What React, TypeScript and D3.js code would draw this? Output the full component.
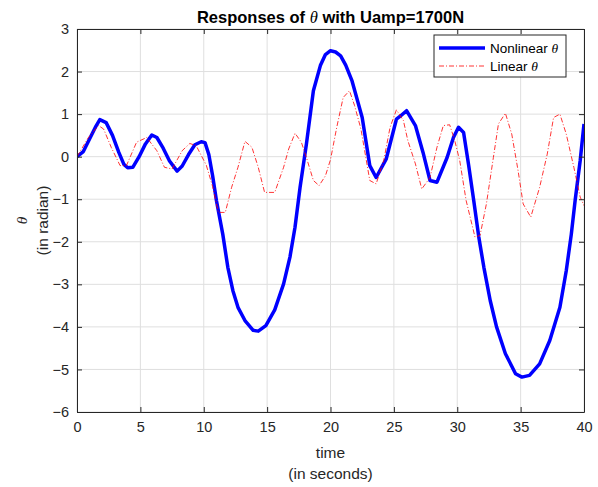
import React, { useEffect, useRef } from "react"
import * as d3 from "d3"

// nonlinear response (thick blue)
const nlT = [0, 0.5, 1, 1.5, 1.8, 2.3, 2.8, 3.3, 3.7, 4.0, 4.4, 4.9, 5.4, 5.9, 6.3, 6.8, 7.3, 7.9, 8.3, 8.8, 9.3, 9.8, 10.1, 10.4, 10.7, 11.0, 11.5, 11.9, 12.3, 12.7, 13.25, 13.9, 14.3, 14.9, 15.6, 16.3, 16.8, 17.2, 17.6, 18.1, 18.65, 19.2, 19.6, 20.0, 20.4, 20.8, 21.2, 21.7, 22.5, 23.1, 23.6, 24.4, 25.2, 25.5, 26.0, 26.7, 27.3, 27.85, 28.4, 29.2, 29.7, 30.1, 30.5, 30.9, 31.3, 31.7, 32.1, 32.6, 33.1, 33.8, 34.6, 35.1, 35.7, 36.5, 37.3, 38.1, 38.6, 39.0, 39.3, 39.7, 40]
const nlTheta = [0, 0.12, 0.42, 0.72, 0.87, 0.8, 0.5, 0.1, -0.18, -0.26, -0.25, 0.0, 0.3, 0.51, 0.45, 0.2, -0.1, -0.34, -0.22, 0.05, 0.28, 0.35, 0.33, 0.05, -0.45, -1.03, -1.82, -2.6, -3.15, -3.54, -3.85, -4.08, -4.1, -3.97, -3.6, -2.99, -2.36, -1.66, -0.72, 0.3, 1.55, 2.14, 2.4, 2.49, 2.46, 2.37, 2.15, 1.78, 0.92, -0.21, -0.49, -0.05, 0.88, 0.95, 1.08, 0.73, 0.1, -0.56, -0.6, -0.02, 0.45, 0.69, 0.57, -0.2, -1.03, -1.89, -2.6, -3.38, -4.0, -4.63, -5.1, -5.18, -5.14, -4.87, -4.32, -3.54, -2.68, -1.82, -1.03, -0.09, 0.77]

// linear response (thin red dash-dot)
const linT = [0, 0.9, 1.7, 2.1, 2.7, 3.4, 3.9, 4.7, 5.5, 6.3, 6.9, 7.5, 8.3, 8.9, 9.4, 10.2, 10.7, 11.15, 11.7, 12.2, 12.7, 13.25, 13.8, 14.3, 14.8, 15.6, 16.3, 16.7, 17.2, 17.7, 18.1, 18.65, 19.1, 19.6, 20.0, 20.5, 21.0, 21.5, 21.9, 22.4, 23.1, 23.6, 24.2, 24.7, 25.2, 25.75, 26.1, 26.7, 27.2, 27.85, 28.4, 28.9, 29.4, 29.8, 30.2, 30.7, 31.4, 31.8, 32.3, 32.85, 33.25, 33.8, 34.3, 34.8, 35.2, 35.8, 36.5, 37.1, 37.6, 38.1, 38.6, 39.2, 39.7, 40]
const linTheta = [0, 0.45, 0.73, 0.65, 0.22, -0.21, -0.21, 0.34, 0.45, 0.14, -0.25, -0.29, 0.14, 0.31, 0.26, -0.2, -0.7, -1.31, -1.31, -0.72, -0.25, 0.36, 0.22, -0.25, -0.84, -0.84, -0.25, 0.18, 0.55, 0.34, -0.02, -0.56, -0.68, -0.45, -0.07, 0.7, 1.39, 1.55, 1.2, 0.65, -0.56, -0.64, -0.09, 0.69, 1.1, 0.85, 0.38, -0.17, -0.76, -0.49, 0.22, 0.73, 0.75, 0.38, -0.1, -1.03, -1.89, -1.85, -1.11, -0.02, 0.77, 1.02, 0.53, -0.33, -1.11, -1.42, -0.72, 0.06, 0.92, 1.0, 0.53, -0.25, -0.95, -1.15]

const xTicks = [0, 5, 10, 15, 20, 25, 30, 35, 40]
const yTicks = [3, 2, 1, 0, -1, -2, -3, -4, -5, -6]

const W = 598
const H = 487
const margin = { top: 29, right: 14, bottom: 75, left: 77 }
const axisColor = "#262626"
const font = "'Liberation Sans', Arial, sans-serif"

export default function App() {
  const ref = useRef<SVGSVGElement>(null)

  useEffect(() => {
    const svg = d3.select(ref.current)
    svg.selectAll("*").remove()

    const x = d3.scaleLinear().domain([0, 40]).range([margin.left, W - margin.right])
    const y = d3.scaleLinear().domain([-6, 3]).range([H - margin.bottom, margin.top])

    svg.append("rect").attr("width", W).attr("height", H).attr("fill", "#fff")

    // grid
    const grid = svg.append("g").attr("stroke", "#dfdfdf").attr("stroke-width", 1)
    xTicks.forEach(t => {
      grid.append("line").attr("x1", x(t)).attr("x2", x(t)).attr("y1", y(-6)).attr("y2", y(3))
    })
    yTicks.forEach(t => {
      grid.append("line").attr("x1", x(0)).attr("x2", x(40)).attr("y1", y(t)).attr("y2", y(t))
    })

    const nl = nlT.map((t, i) => [t, nlTheta[i]] as [number, number])
    const lin = linT.map((t, i) => [t, linTheta[i]] as [number, number])
    const line = d3.line<[number, number]>().x(d => x(d[0])).y(d => y(d[1]))

    const clip = svg.append("clipPath").attr("id", "plotclip")
    clip.append("rect").attr("x", x(0)).attr("y", y(3)).attr("width", x(40) - x(0)).attr("height", y(-6) - y(3))

    const plot = svg.append("g").attr("clip-path", "url(#plotclip)")
    plot.append("path").datum(nl).attr("d", line).attr("fill", "none")
      .attr("stroke", "#0000ff").attr("stroke-width", 3.5).attr("stroke-linejoin", "round")
    plot.append("path").datum(lin).attr("d", line).attr("fill", "none")
      .attr("stroke", "#ff0000").attr("stroke-width", 0.8).attr("stroke-dasharray", "5,2,1,2")

    // axes box
    const xAxisB = d3.axisBottom(x).tickValues(xTicks).tickSize(-5).tickSizeOuter(0).tickPadding(10)
    const xAxisT = d3.axisTop(x).tickValues(xTicks).tickSize(-5).tickSizeOuter(0).tickFormat(() => "")
    const yAxisL = d3.axisLeft(y).tickValues(yTicks).tickSize(-5).tickSizeOuter(0).tickPadding(8)
    const yAxisR = d3.axisRight(y).tickValues(yTicks).tickSize(-5).tickSizeOuter(0).tickFormat(() => "")

    const styleAxis = (g: any) => {
      g.selectAll("path").attr("stroke", axisColor)
      g.selectAll("line").attr("stroke", axisColor)
      g.selectAll("text").attr("fill", axisColor).attr("font-size", 14.5).attr("font-family", font)
    }

    svg.append("g").attr("transform", `translate(0,${y(-6)})`).call(xAxisB).call(styleAxis)
    svg.append("g").attr("transform", `translate(0,${y(3)})`).call(xAxisT).call(styleAxis)
    svg.append("g").attr("transform", `translate(${x(0)},0)`).call(yAxisL).call(styleAxis)
    svg.append("g").attr("transform", `translate(${x(40)},0)`).call(yAxisR).call(styleAxis)

    // title
    const title = svg.append("text").attr("x", (x(0) + x(40)) / 2).attr("y", 23)
      .attr("text-anchor", "middle").attr("font-family", font).attr("font-size", 16.5)
      .attr("font-weight", "bold").attr("fill", "#000")
    title.append("tspan").text("Responses of ")
    title.append("tspan").attr("font-family", "'Liberation Serif', serif").attr("font-style", "italic").attr("font-weight", "normal").text("θ")
    title.append("tspan").text(" with Uamp=1700N")

    // x label
    svg.append("text").attr("x", (x(0) + x(40)) / 2).attr("y", 458).attr("text-anchor", "middle")
      .attr("font-family", font).attr("font-size", 15.5).attr("fill", axisColor).text("time")
    svg.append("text").attr("x", (x(0) + x(40)) / 2).attr("y", 479).attr("text-anchor", "middle")
      .attr("font-family", font).attr("font-size", 15.5).attr("fill", axisColor).text("(in seconds)")

    // y label
    const cy = (y(3) + y(-6)) / 2
    svg.append("text").attr("transform", `translate(27,${cy}) rotate(-90)`).attr("text-anchor", "middle")
      .attr("font-family", "'Liberation Serif', serif").attr("font-style", "italic").attr("font-size", 15.5).attr("fill", axisColor).text("θ")
    svg.append("text").attr("transform", `translate(48,${cy}) rotate(-90)`).attr("text-anchor", "middle")
      .attr("font-family", font).attr("font-size", 15.5).attr("fill", axisColor).text("(in radian)")

    // legend
    const lg = svg.append("g").attr("transform", "translate(434,35)")
    lg.append("rect").attr("width", 132).attr("height", 42).attr("fill", "#fff").attr("stroke", axisColor).attr("stroke-width", 1)
    lg.append("line").attr("x1", 5).attr("x2", 51).attr("y1", 13).attr("y2", 13).attr("stroke", "#0000ff").attr("stroke-width", 3.5)
    lg.append("line").attr("x1", 5).attr("x2", 51).attr("y1", 31).attr("y2", 31).attr("stroke", "#ff0000").attr("stroke-width", 0.8).attr("stroke-dasharray", "5,2,1,2")
    const l1 = lg.append("text").attr("x", 56).attr("y", 18).attr("font-family", font).attr("font-size", 13.5).attr("fill", "#000")
    l1.append("tspan").text("Nonlinear ")
    l1.append("tspan").attr("font-family", "'Liberation Serif', serif").attr("font-style", "italic").text("θ")
    const l2 = lg.append("text").attr("x", 56).attr("y", 36).attr("font-family", font).attr("font-size", 13.5).attr("fill", "#000")
    l2.append("tspan").text("Linear ")
    l2.append("tspan").attr("font-family", "'Liberation Serif', serif").attr("font-style", "italic").text("θ")
  }, [])

  return <svg ref={ref} width={W} height={H} style={{ display: "block", position: "absolute", left: 0, top: 0 }} />
}
